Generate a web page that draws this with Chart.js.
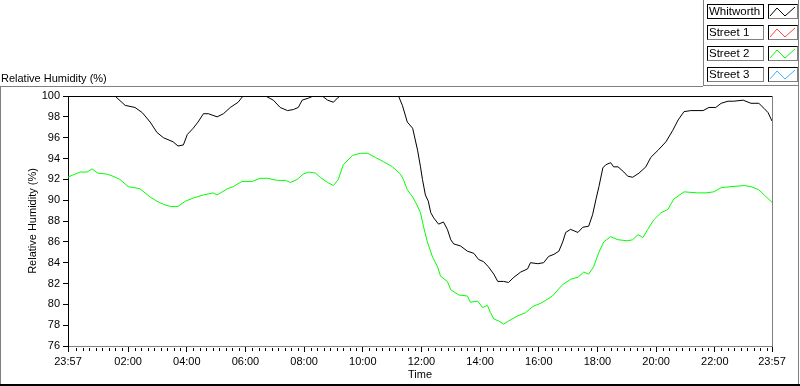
<!DOCTYPE html>
<html>
<head>
<meta charset="utf-8">
<script src="https://cdn.jsdelivr.net/npm/chart.js@4"></script>
<style>
  html, body { margin: 0; padding: 0; background: #fff; }
  #wrap { position: relative; width: 800px; height: 386px; overflow: hidden; font-family: "Liberation Sans", Arial, sans-serif; }
  #chart { position: absolute; left: 0; top: 0; }
  .ln { position: absolute; background: #808080; }
  #topLabel { position: absolute; left: 1px; top: 72px; font-size: 11px; line-height: 13px; color: #000; white-space: nowrap; }
  .lg-row { position: absolute; left: 707px; height: 15px; }
  .lg-name { position: absolute; left: 0; top: 0; width: 54px; height: 13px; border: 1px solid #000; border-right-color: #808080; border-bottom-color: #808080;
             font-size: 11.5px; line-height: 13px; padding-left: 1px; white-space: nowrap; overflow: hidden; }
  .lg-name.sel { border-color: #000; }
  .lg-plot { position: absolute; left: 61px; top: 0; width: 28px; height: 13px; border: 1px solid #000; border-right-color: #808080; border-bottom-color: #808080; }
  .lg-plot svg { position: absolute; left: 0; top: 0; }
</style>
</head>
<body>
<div id="wrap">
  <canvas id="chart" width="800" height="386"></canvas>
  <div id="topLabel">Relative Humidity (%)</div>
  <div class="ln" style="left:0;top:86px;width:703px;height:1px"></div>
  <div class="ln" style="left:0;top:86px;width:1px;height:298px"></div>
  <div class="ln" style="left:798px;top:0;width:1px;height:385px"></div>
  <div class="ln" style="left:703px;top:0;width:1px;height:86px"></div>
  <div class="ln" style="left:703px;top:85px;width:96px;height:1px"></div>
  <div style="position:absolute;left:0;top:384px;width:800px;height:2px;background:#000"></div>
  <div id="legend"></div>
</div>
<script>
// Series (time in minutes from 00:00, 23:57 = -3)
const whitworthTime = [-3, 93, 114, 134, 149, 165, 179, 192, 212, 222, 233, 241, 253, 263, 274, 284, 302, 315, 329, 345,
  355, 401, 417, 431, 446, 458, 468, 476, 489, 499, 517, 528, 540, 548, 554, 673, 681, 691, 702, 712,
  718, 722, 728, 734, 739, 745, 755, 765, 773, 780, 786, 800, 814, 827, 837, 847, 857, 868, 876, 888,
  898, 909, 923, 937, 943, 958, 970, 980, 991, 1001, 1009, 1015, 1025, 1040, 1050, 1062, 1070, 1077, 1083, 1091,
  1097, 1107, 1113, 1122, 1134, 1142, 1152, 1165, 1179, 1189, 1204, 1220, 1234, 1245, 1257, 1271, 1296, 1308, 1322, 1333,
  1347, 1359, 1378, 1394, 1410, 1421, 1429, 1437];
const whitworthRH = [100, 100, 99.1, 98.9, 98.4, 97.5, 96.5, 96.0, 95.6, 95.2, 95.3, 96.3, 96.9, 97.5, 98.3, 98.3, 98.0, 98.3, 98.9, 99.4,
  100, 100, 99.6, 98.9, 98.6, 98.7, 98.9, 99.6, 99.8, 100, 100, 99.6, 99.4, 99.8, 100, 100, 99.1, 97.5, 96.9, 94.8,
  93.2, 92.0, 90.5, 89.9, 88.8, 88.3, 87.7, 87.9, 87.2, 86.2, 85.8, 85.6, 85.1, 84.9, 84.3, 84.1, 83.6, 82.9, 82.2, 82.2,
  82.1, 82.6, 83.1, 83.4, 84.0, 83.9, 84.0, 84.6, 84.8, 85.1, 86.0, 86.9, 87.2, 86.9, 87.4, 87.5, 88.6, 90.1, 91.3, 93.1,
  93.4, 93.6, 93.2, 93.2, 92.7, 92.3, 92.2, 92.6, 93.2, 94.1, 94.8, 95.6, 96.7, 97.7, 98.5, 98.6, 98.6, 98.9, 98.9, 99.3,
  99.5, 99.5, 99.6, 99.3, 99.3, 98.8, 98.4, 97.6];

const street2Time = [-3, 1, 22, 36, 46, 58, 77, 89, 103, 120, 144, 165, 179, 192, 206, 222, 237, 253, 274, 294,
  302, 323, 335, 353, 374, 390, 405, 425, 442, 452, 466, 478, 489, 503, 513, 528, 540, 550, 560, 579,
  595, 610, 626, 642, 661, 677, 683, 691, 702, 708, 718, 724, 732, 743, 753, 759, 773, 780, 796, 814,
  820, 835, 845, 855, 861, 868, 878, 888, 898, 917, 933, 948, 964, 978, 988, 999, 1009, 1025, 1040, 1052,
  1062, 1072, 1083, 1093, 1107, 1122, 1142, 1152, 1163, 1173, 1183, 1195, 1210, 1224, 1236, 1257, 1285, 1302, 1318, 1333,
  1353, 1380, 1394, 1410, 1421, 1437];
const street2RH = [92.2, 92.3, 92.7, 92.7, 93.0, 92.6, 92.5, 92.3, 92.0, 91.3, 91.1, 90.3, 89.9, 89.6, 89.4, 89.4, 89.9, 90.2, 90.5, 90.7,
  90.5, 91.1, 91.3, 91.8, 91.8, 92.1, 92.1, 91.9, 91.9, 91.7, 92.0, 92.5, 92.7, 92.6, 92.2, 91.7, 91.4, 92.0, 93.4, 94.3,
  94.5, 94.5, 94.1, 93.7, 93.2, 92.5, 92.0, 91.0, 90.3, 89.8, 88.8, 87.5, 86.0, 84.5, 83.6, 82.7, 82.2, 81.4, 80.9, 80.8,
  80.2, 80.3, 79.7, 79.9, 79.2, 78.6, 78.4, 78.1, 78.4, 78.9, 79.2, 79.8, 80.1, 80.5, 80.8, 81.4, 81.9, 82.4, 82.6, 83.1,
  82.9, 83.6, 85.0, 86.0, 86.5, 86.2, 86.1, 86.2, 86.7, 86.4, 87.2, 88.1, 88.8, 89.1, 90.1, 90.8, 90.7, 90.7, 90.8, 91.2,
  91.3, 91.4, 91.3, 91.0, 90.5, 89.8];

const yTicks = [76, 78, 80, 82, 84, 86, 88, 90, 92, 94, 96, 98, 100];
const xTickValues = [-3, 120, 240, 360, 480, 600, 720, 840, 960, 1080, 1200, 1320, 1437];
const xTickLabels = ['23:57', '02:00', '04:00', '06:00', '08:00', '10:00', '12:00', '14:00', '16:00', '18:00', '20:00', '22:00', '23:57'];

const legendNames = ['Whitworth', 'Street 1', 'Street 2', 'Street 3'];
const legendColors = ['#000000', '#ff4040', '#00ff00', '#40b0ff'];

// legend boxes (LabVIEW style)
const legend = document.getElementById('legend');
legendNames.forEach(function(name, i) {
    const row = document.createElement('div');
    row.className = 'lg-row';
    row.style.top = (4 + i * 21) + 'px';
    row.innerHTML = '<div class="lg-name' + (i === 0 ? ' sel' : '') + '">' + name + '</div>' +
        '<div class="lg-plot"><svg width="28" height="13"><polyline points="1,11 8,3 16,11 26,2" fill="none" stroke="' +
        legendColors[i] + '" stroke-width="1"/></svg></div>';
    legend.appendChild(row);
});

Chart.defaults.font.family = '"Liberation Sans", Arial, sans-serif';
Chart.defaults.font.size = 11;
Chart.defaults.color = '#000';

// plot frame + minor ticks on the time axis
const framePlugin = {
    id: 'frame',
    afterDraw(chart) {
        const ctx = chart.ctx;
        const ca = chart.chartArea;
        const xs = chart.scales.x;
        ctx.save();
        ctx.lineWidth = 1;
        ctx.strokeStyle = '#000';
        ctx.beginPath();
        ctx.moveTo(ca.left, ca.top + 0.5);
        ctx.lineTo(ca.right, ca.top + 0.5);
        ctx.stroke();
        ctx.strokeStyle = '#808080';
        ctx.beginPath();
        ctx.moveTo(Math.round(ca.right) + 0.5, ca.top);
        ctx.lineTo(Math.round(ca.right) + 0.5, ca.bottom);
        ctx.stroke();
        // minor ticks
        ctx.strokeStyle = '#000';
        const step = 120 / 9;
        ctx.beginPath();
        for (let k = -9; k <= 12 * 9; k++) {
            const v = 120 + k * step;
            if (v < xs.min || v > xs.max || k % 9 === 0) continue;
            const px = Math.round(xs.getPixelForValue(v)) + 0.5;
            ctx.moveTo(px, ca.bottom + 2);
            ctx.lineTo(px, ca.bottom + 5);
        }
        ctx.stroke();
        ctx.restore();
    }
};

new Chart(document.getElementById('chart'), {
    type: 'line',
    data: {
        datasets: [{
            label: 'Street 2',
            data: street2Time.map((t, i) => ({ x: t, y: street2RH[i] })),
            borderColor: '#00ff00',
            borderWidth: 1,
            pointRadius: 0,
            tension: 0
        }, {
            label: 'Whitworth',
            data: whitworthTime.map((t, i) => ({ x: t, y: whitworthRH[i] })),
            borderColor: '#000000',
            borderWidth: 1,
            pointRadius: 0,
            tension: 0
        }]
    },
    options: {
        responsive: false,
        animation: false,
        layout: { padding: { left: 0, top: 96, right: 28, bottom: 0 } },
        plugins: {
            legend: { display: false },
            tooltip: { enabled: false }
        },
        scales: {
            x: {
                type: 'linear',
                min: -3,
                max: 1437,
                afterBuildTicks: s => { s.ticks = xTickValues.map(v => ({ value: v })); },
                afterFit: s => { s.height = 40; },
                ticks: {
                    autoSkip: false,
                    maxRotation: 0,
                    padding: 3,
                    callback: (v, i) => xTickLabels[i]
                },
                grid: { drawOnChartArea: false, tickLength: 6, tickColor: '#000' },
                border: { color: '#808080' },
                title: { display: true, text: 'Time', padding: { top: 0, bottom: 4 } }
            },
            y: {
                min: 76,
                max: 100,
                afterBuildTicks: s => { s.ticks = yTicks.map(v => ({ value: v })); },
                afterFit: s => { s.width = 68; },
                ticks: { padding: 3 },
                grid: { drawOnChartArea: false, tickLength: 5, tickColor: '#000' },
                border: { color: '#000' },
                title: { display: true, text: 'Relative Humidity (%)', padding: { top: 26, bottom: 0 } }
            }
        }
    },
    plugins: [framePlugin]
});
</script>
</body>
</html>
